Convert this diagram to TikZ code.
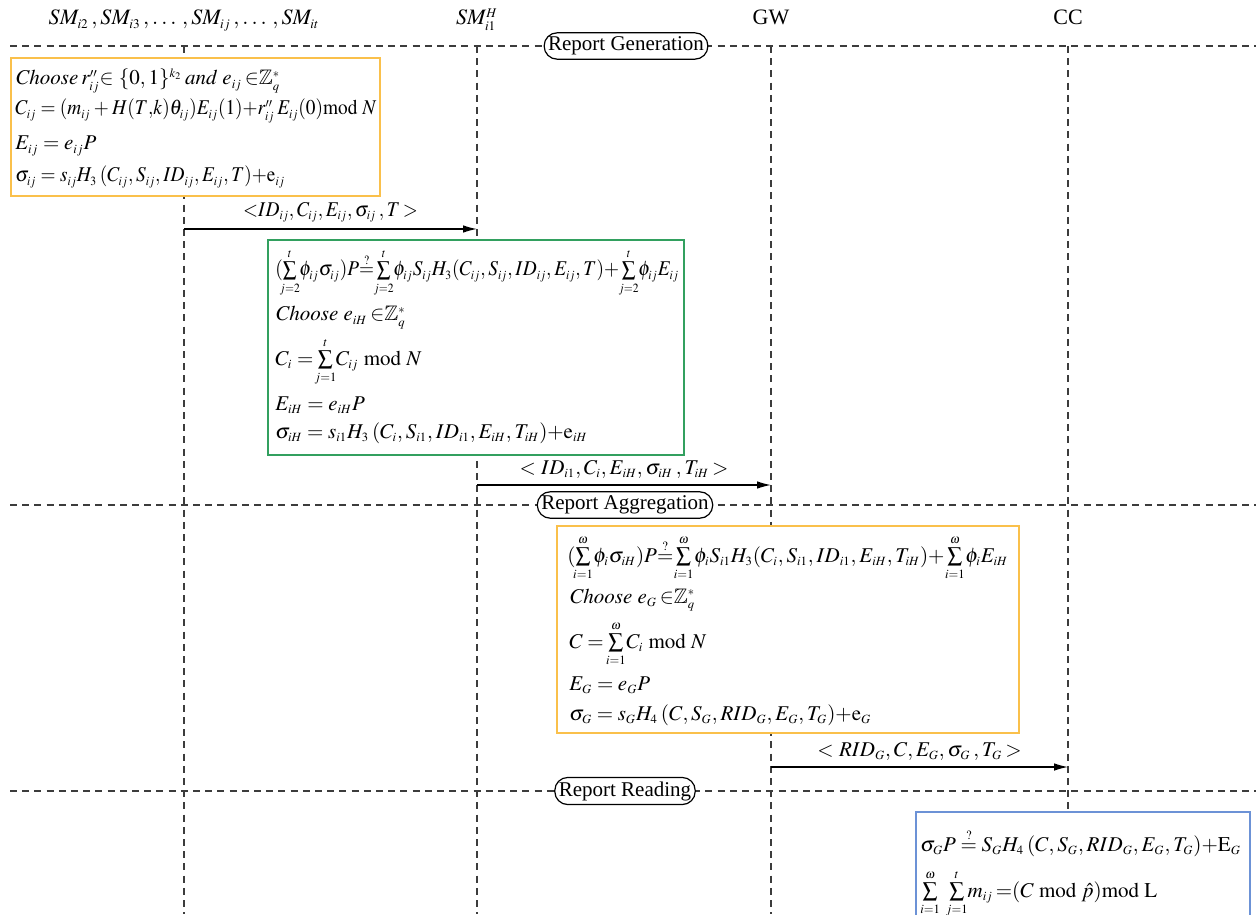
\documentclass[tikz,border=0pt]{standalone}
\usepackage{amsmath,amssymb,mathtools}
\usepackage{mathptmx}
\usepackage{fontspec}
\setmainfont{Liberation Serif}
\usetikzlibrary{arrows.meta,fit}
\DeclareMathSizes{10.5}{10.5}{6.3}{5}
\DeclareMathSizes{11}{11}{6.6}{5}
\definecolor{boxorange}{RGB}{250,192,75}
\definecolor{boxgreen}{RGB}{50,160,95}
\definecolor{boxblue}{RGB}{108,146,214}
\definecolor{dashgray}{RGB}{60,60,60}
\newcommand{\Zqs}{\mathbb{Z}_q^{*}}
\newcommand{\Sm}[2]{\sum\limits_{\mathclap{#1}}^{\mathclap{#2}}}
\newcommand{\sqz}[1]{\scalebox{0.92}[1]{#1}}
\thinmuskip=2.5mu
\medmuskip=3mu plus 1mu minus 1mu
\thickmuskip=4mu plus 2mu
\begin{document}
\begin{tikzpicture}[x=0.5pt,y=-0.5pt,
  every node/.style={font=\fontsize{10.5}{12}\selectfont},
  dline/.style={draw=dashgray, line width=0.6pt, dash pattern=on 3.5pt off 2.6pt},
  msg/.style={draw=black, line width=0.65pt, -{Latex[length=7pt,width=3.8pt]}},
  phase/.style={draw=black, fill=white, rounded corners=6.5pt, line width=0.6pt, inner xsep=2pt, inner ysep=2pt},
  frame/.style={fill=white, line width=0.8pt, inner sep=0pt},
  txt/.style={anchor=base west, inner sep=0pt},
  head/.style={anchor=base, inner sep=0pt, font=\fontsize{11}{12}\selectfont},
  mlabel/.style={midway, above, inner sep=3pt}]
\useasboundingbox (0,0) rectangle (1256,914);

% headers
\node[head] (h1) at (184,25) {$SM_{i2}\mkern2mu, SM_{i3}\mkern2mu, \ldots\mkern2mu, SM_{ij}\mkern2mu, \ldots\mkern2mu, SM_{it}$};
\node[head] (h2) at (477,25) {$SM_{i1}^{H}$};
\node[head] (h3) at (771,25) {GW};
\node[head] (h4) at (1068,25) {CC};

% phase separators
\coordinate (s1a) at (10,46);  \coordinate (s1b) at (1256,46);
\coordinate (s2a) at (10,505); \coordinate (s2b) at (1256,505);
\coordinate (s3a) at (10,791); \coordinate (s3b) at (1256,791);
\draw[dline] (s1a) -- (s1b);
\draw[dline] (s2a) -- (s2b);
\draw[dline] (s3a) -- (s3b);

% lifelines
\coordinate (l1t) at (184,46);  \coordinate (l1b) at (184,914);
\coordinate (l2t) at (477,46);  \coordinate (l2b) at (477,914);
\coordinate (l3t) at (771,46);  \coordinate (l3b) at (771,914);
\coordinate (l4t) at (1068,46); \coordinate (l4b) at (1068,914);
\draw[dline] (l1t) -- (l1b);
\draw[dline] (l2t) -- (l2b);
\draw[dline] (l3t) -- (l3b);
\draw[dline] (l4t) -- (l4b);

% phase labels
\node[phase] (p1) at (626,46) {Report Generation};
\node[phase] (p2) at (625,505) {Report Aggregation};
\node[phase] (p3) at (625,791) {Report Reading};

% box 1
\coordinate (b1a) at (11,58); \coordinate (b1b) at (380,196);
\node[frame, draw=boxorange, fit=(b1a)(b1b)] (box1) {};
\node[txt] (t11) at (15,85) {$\mathit{Choose}\,r''_{ij}{\in}\ \{0,1\}^{k_2}\,\mathit{and}\ e_{ij}\,{\in}\Zqs$};
\node[txt] (t12) at (15,115) {\sqz{$C_{ij} = (m_{ij} + H(T{,}k)\theta_{ij})E_{ij}(1){+}r''_{ij}\,E_{ij}(0)\mathrm{mod}\ N$}};
\node[txt] (t13) at (15,150) {$E_{ij} = e_{ij}P$};
\node[txt] (t14) at (15,182) {\sqz{$\sigma_{ij} = s_{ij}H_3\,(C_{ij}, S_{ij}, ID_{ij}, E_{ij}, T){+}\mathrm{e}_{ij}$}};

% message 1
\coordinate (m1s) at (184,229); \coordinate (m1e) at (477,229);
\draw[msg] (m1s) -- node[mlabel] (ml1) {\sqz{${<}ID_{ij}, C_{ij}, E_{ij}, \sigma_{ij}\,,T\,{>}$}} (m1e);

% box 2
\coordinate (b2a) at (268,240); \coordinate (b2b) at (684,455);
\node[frame, draw=boxgreen, fit=(b2a)(b2b)] (box2) {};
\node[txt] (t21) at (275,276) {\sqz{$(\Sm{j=2}{t}\phi_{ij}\sigma_{ij})P{\overset{?}{=}}\Sm{j=2}{t}\phi_{ij}S_{ij}H_3(C_{ij}, S_{ij}, ID_{ij}, E_{ij}, T){+}\Sm{j=2}{t}\phi_{ij}E_{ij}$}};
\node[txt] (t22) at (275,321) {$\mathit{Choose}\ e_{iH}\,{\in}\Zqs$};
\node[txt] (t23) at (275,365) {$C_i = \Sm{j=1}{t}C_{ij}\ \mathrm{mod}\ N$};
\node[txt] (t24) at (275,410) {$E_{iH} = e_{iH}P$};
\node[txt] (t25) at (275,438) {$\sigma_{iH} = s_{i1}H_3\,(C_i, S_{i1}, ID_{i1}, E_{iH}, T_{iH}){+}\mathrm{e}_{iH}$};

% message 2
\coordinate (m2s) at (477,485); \coordinate (m2e) at (771,485);
\draw[msg] (m2s) -- node[mlabel] (ml2) {${<}\ ID_{i1}, C_i, E_{iH}, \sigma_{iH}\,,T_{iH}\,{>}$} (m2e);

% box 3
\coordinate (b3a) at (557,526); \coordinate (b3b) at (1019,733);
\node[frame, draw=boxorange, fit=(b3a)(b3b)] (box3) {};
\node[txt] (t31) at (567,562) {$(\Sm{i=1}{\omega}\phi_i\sigma_{iH})P{\overset{?}{=}}\Sm{i=1}{\omega}\phi_iS_{i1}H_3(C_i, S_{i1}, ID_{i1}, E_{iH}, T_{iH}){+}\Sm{i=1}{\omega}\phi_iE_{iH}$};
\node[txt] (t32) at (569,603) {$\mathit{Choose}\ e_{G}\,{\in}\Zqs$};
\node[txt] (t33) at (569,648) {$C = \Sm{i=1}{\omega}C_{i}\ \mathrm{mod}\ N$};
\node[txt] (t34) at (569,690) {$E_{G} = e_{G}P$};
\node[txt] (t35) at (569,720) {$\sigma_{G} = s_{G}H_4\,(C, S_{G}, RID_{G}, E_{G}, T_{G}){+}\mathrm{e}_{G}$};

% message 3
\coordinate (m3s) at (771,767); \coordinate (m3e) at (1068,767);
\draw[msg] (m3s) -- node[mlabel] (ml3) {${<}\ RID_{G}, C, E_{G}, \sigma_{G}\,,T_{G}\,{>}$} (m3e);

% box 4
\coordinate (b4a) at (916,812); \coordinate (b4b) at (1250,920);
\node[frame, draw=boxblue, fit=(b4a)(b4b)] (box4) {};
\node[txt] (t41) at (920,851) {$\sigma_{G}P \overset{?}{=} S_{G}H_4\,(C, S_{G}, RID_{G}, E_{G}, T_{G}){+}\mathrm{E}_{G}$};
\node[txt] (t42) at (920,897) {$\sum\limits_{i=1}^{\omega}\,\sum\limits_{j=1}^{t}\!m_{ij}\,{=}(C\ \mathrm{mod}\ \hat{p})\mathrm{mod}\ \mathrm{L}$};
\end{tikzpicture}
\end{document}
